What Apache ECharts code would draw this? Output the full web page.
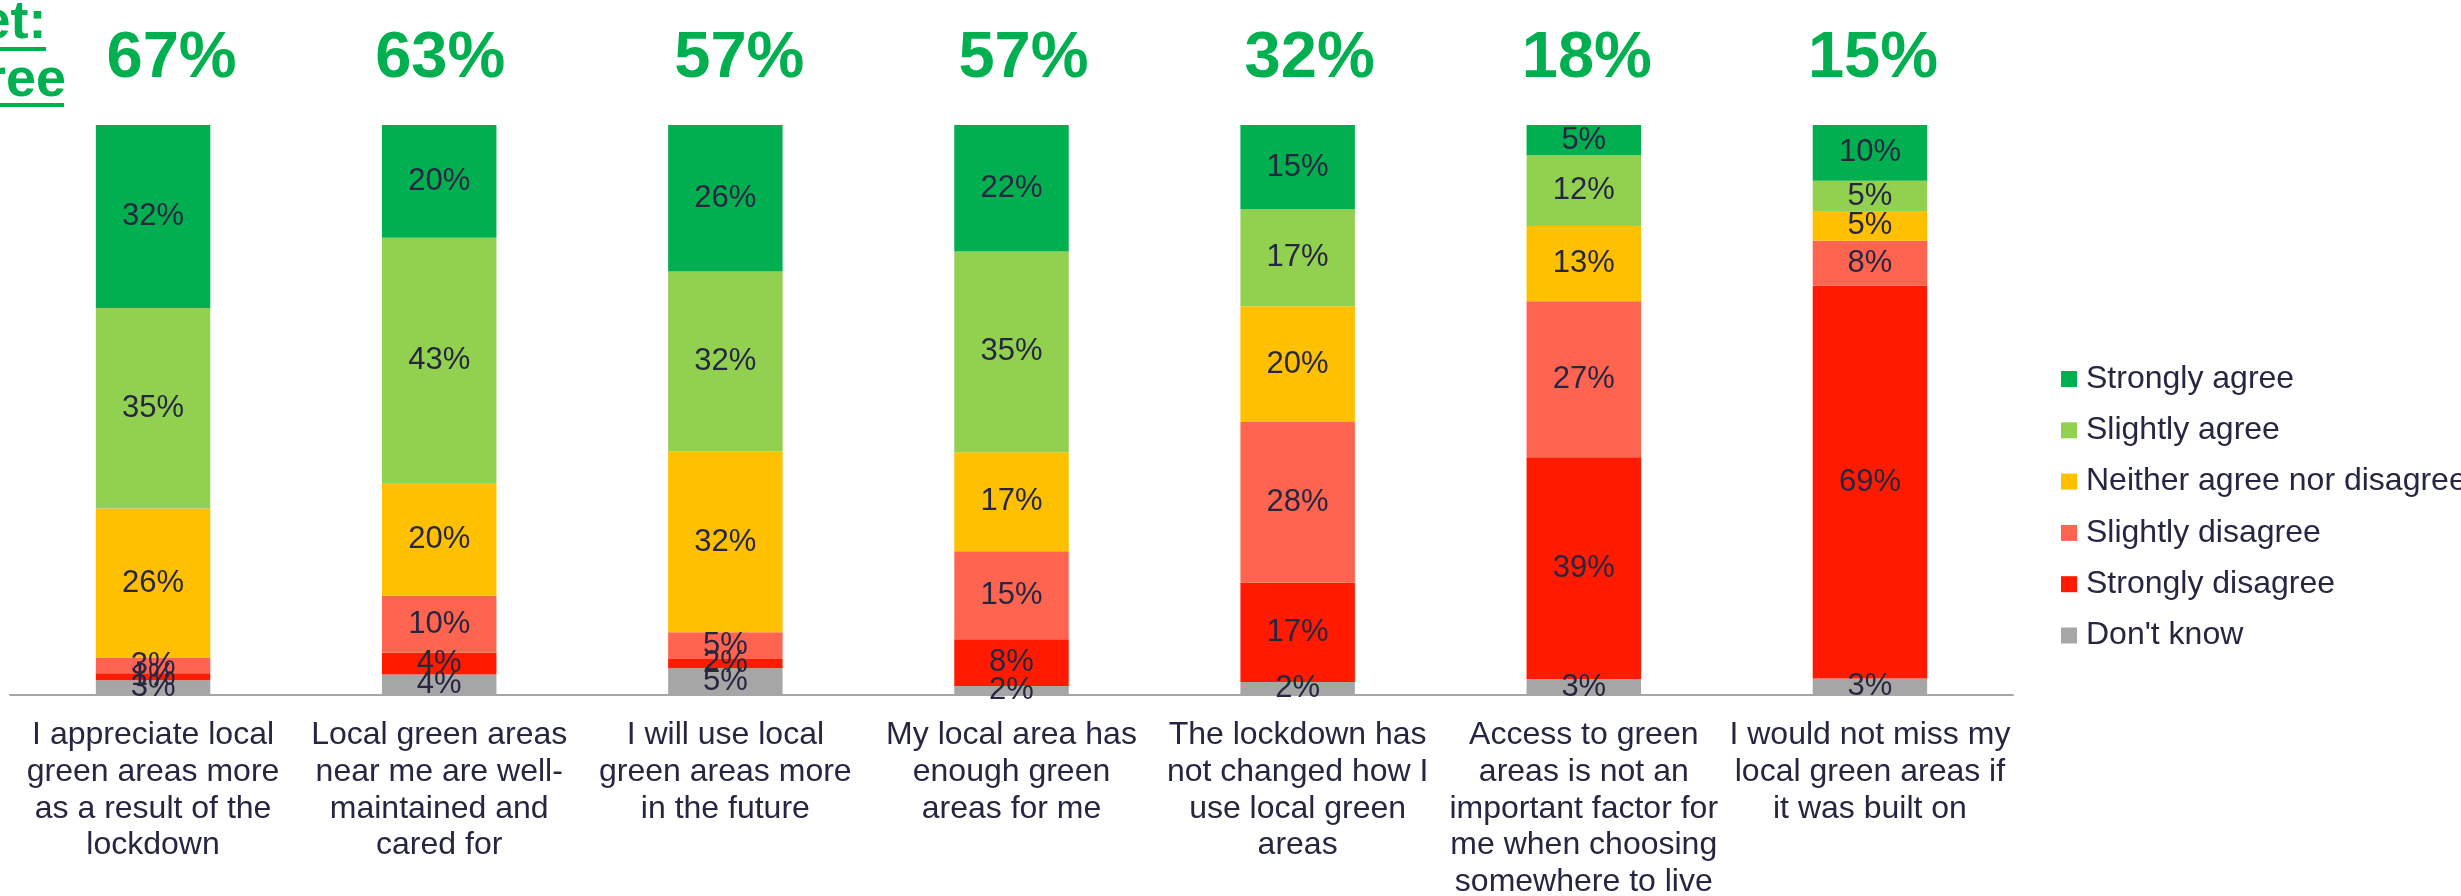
<!DOCTYPE html>
<html>
<head>
<meta charset="utf-8">
<script src="https://cdn.jsdelivr.net/npm/echarts@6/dist/echarts.min.js"></script>
<style>
html,body{margin:0;padding:0;background:#fff;}
#chart{width:2461px;height:896px;}
</style>
</head>
<body>
<div id="chart"></div>
<script>
const categories = [
  "I appreciate local\ngreen areas more\nas a result of the\nlockdown",
  "Local green areas\nnear me are well-\nmaintained and\ncared for",
  "I will use local\ngreen areas more\nin the future",
  "My local area has\nenough green\nareas for me",
  "The lockdown has\nnot changed how I\nuse local green\nareas",
  "Access to green\nareas is not an\nimportant factor for\nme when choosing\nsomewhere to live",
  "I would not miss my\nlocal green areas if\nit was built on"
];
const netAgree = [67, 63, 57, 57, 32, 18, 15];

const stronglyAgree    = [32.1, 19.8, 25.7, 22.2, 14.8, 5.3, 9.8];
const slightlyAgree    = [35.2, 43.0, 31.6, 35.2, 17.0, 12.4, 5.3];
const neither          = [26.1, 19.8, 31.7, 17.4, 20.3, 13.2, 5.2];
const slightlyDisagree = [2.8, 10.0, 4.7, 15.4, 28.2, 27.4, 7.9];
const stronglyDisagree = [1.2, 3.8, 1.6, 8.2, 17.4, 38.9, 68.9];
const dontKnow         = [2.6, 3.6, 4.7, 1.6, 2.3, 2.8, 2.9];

const seriesDefs = [
  {name: "Don't know", data: dontKnow, color: '#A6A6A6'},
  {name: 'Strongly disagree', data: stronglyDisagree, color: '#FF1A00'},
  {name: 'Slightly disagree', data: slightlyDisagree, color: '#FF6450'},
  {name: 'Neither agree nor disagree', data: neither, color: '#FFC000'},
  {name: 'Slightly agree', data: slightlyAgree, color: '#92D050'},
  {name: 'Strongly agree', data: stronglyAgree, color: '#00B050'}
];

const FONT = "'Liberation Sans', Arial, sans-serif";
const TXT = '#262641';
const GREEN = '#00B050';
// small horizontal nudges of the headline text boxes (layout only)
const headShift = [37, 2, 28, 24, 24, 6, 6];

const chart = echarts.init(document.getElementById('chart'), null, {renderer: 'canvas'});
chart.setOption({
  backgroundColor: '#ffffff',
  animation: false,
  textStyle: {fontFamily: FONT},
  grid: {left: 10, top: 125, width: 2003, height: 570, containLabel: false, outerBoundsMode: 'none'},
  legend: {
    orient: 'vertical',
    left: 2056,
    top: 358,
    itemWidth: 16,
    itemHeight: 16,
    itemGap: 19.3,
    icon: 'rect',
    data: ['Strongly agree', 'Slightly agree', 'Neither agree nor disagree', 'Slightly disagree', 'Strongly disagree', "Don't know"],
    textStyle: {fontFamily: FONT, fontSize: 32, lineHeight: 32, color: TXT, padding: [0, 0, 0, 4]}
  },
  xAxis: [
    {
      type: 'category',
      data: categories,
      position: 'bottom',
      axisLine: {show: true, lineStyle: {color: '#A6A6A6', width: 2}},
      axisTick: {show: false},
      axisLabel: {
        interval: 0, margin: 22, fontFamily: FONT, fontSize: 32, lineHeight: 36.7,
        color: TXT, verticalAlign: 'top', align: 'center'
      }
    },
    {
      type: 'category',
      data: netAgree.map((v, i) => ({value: v + '%', textStyle: {padding: [0, 0, 0, headShift[i]]}})),
      position: 'top',
      axisLine: {show: false},
      axisTick: {show: false},
      axisLabel: {
        interval: 0, margin: 33, fontFamily: FONT, fontSize: 65, fontWeight: 'bold',
        lineHeight: 65, color: GREEN
      }
    }
  ],
  yAxis: {type: 'value', min: 0, max: 100, show: false, splitLine: {show: false}},
  graphic: [
    {
      type: 'text', x: -6, y: -6, z: 100,
      style: {
        text: 'Net:\nagree', fill: GREEN, align: 'center', verticalAlign: 'top',
        font: "bold 54px 'Liberation Sans', Arial, sans-serif", lineHeight: 58
      }
    },
    {type: 'rect', z: 100, shape: {x: 0, y: 47, width: 46, height: 4}, style: {fill: GREEN}},
    {type: 'rect', z: 100, shape: {x: 0, y: 103, width: 64, height: 4}, style: {fill: GREEN}}
  ],
  series: seriesDefs.map(s => ({
    name: s.name,
    type: 'bar',
    stack: 'total',
    xAxisIndex: 0,
    barWidth: '40%',
    data: s.data,
    itemStyle: {color: s.color},
    label: {
      show: true, position: 'inside', fontFamily: FONT, fontSize: 31, color: TXT,
      formatter: p => Math.round(p.value) + '%'
    }
  }))
});
</script>
</body>
</html>
